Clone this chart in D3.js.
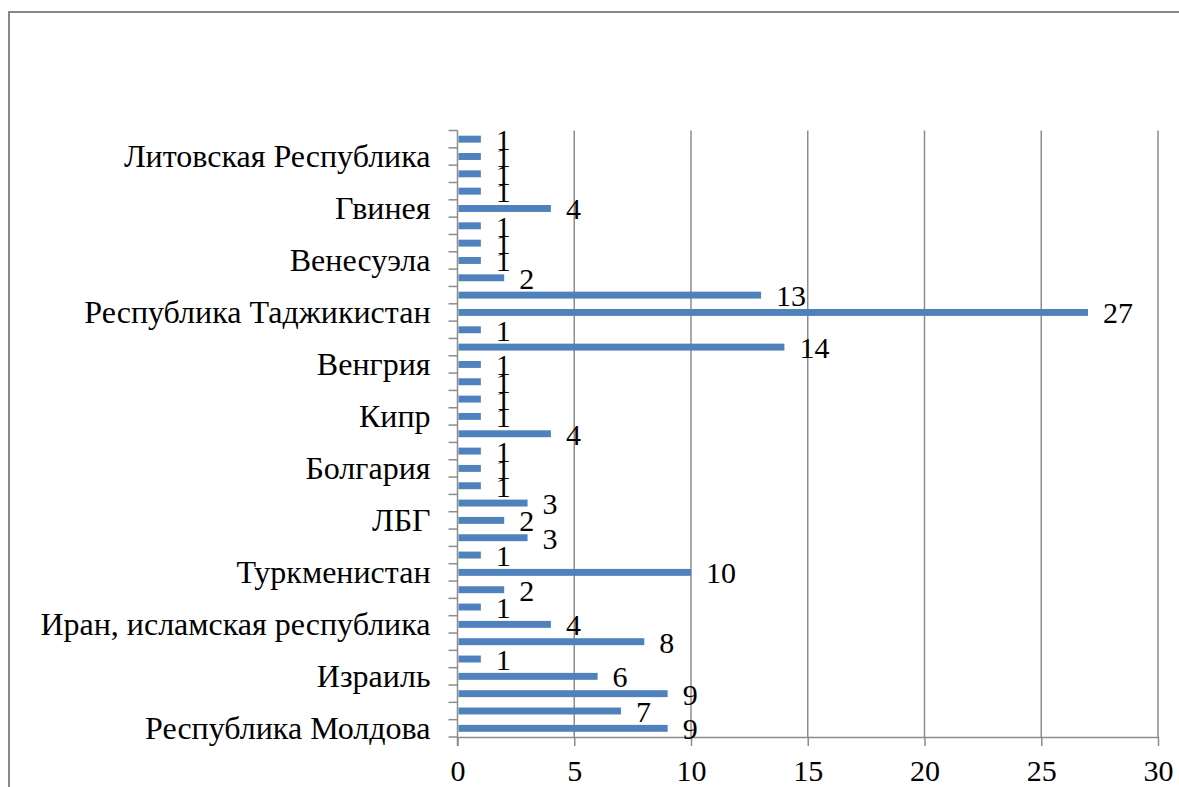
<!DOCTYPE html>
<html>
<head>
<meta charset="utf-8">
<script src="https://cdn.jsdelivr.net/npm/d3@7"></script>
<style>
  body { margin: 0; background: #fff; }
</style>
</head>
<body>
<div id="chart"></div>
<script>
// categories from the bottom of the axis upwards; only every third one is labelled in the picture
var countries = [
  "Республика Молдова", "", "", "Израиль", "", "",
  "Иран, исламская республика", "", "", "Туркменистан", "", "",
  "ЛБГ", "", "", "Болгария", "", "",
  "Кипр", "", "", "Венгрия", "", "",
  "Республика Таджикистан", "", "", "Венесуэла", "", "",
  "Гвинея", "", "", "Литовская Республика", ""
];
var counts = [9, 7, 9, 6, 1, 8, 4, 1, 2, 10, 1, 3, 2, 3, 1, 1, 1, 4, 1, 1, 1, 1, 14, 1, 27, 13, 2, 1, 1, 1, 4, 1, 1, 1, 1];
var xTicks = [0, 5, 10, 15, 20, 25, 30];

var W = 1179, H = 787;
var plot = { left: 457.5, right: 1158, top: 130.5, bottom: 737 };
var gray = "#8c8c8c";
var serif = "'Liberation Serif', Tinos, 'Times New Roman', serif";

var svg = d3.select("#chart")
  .append("svg")
  .attr("width", W)
  .attr("height", H)
  .attr("font-family", serif);

// outer chart frame (runs off the right and bottom edge)
svg.append("rect")
  .attr("x", 9).attr("y", 12)
  .attr("width", W + 20).attr("height", H + 20)
  .attr("fill", "none")
  .attr("stroke", "#888")
  .attr("stroke-width", 2);

var x = d3.scaleLinear()
  .domain([0, 30])
  .range([plot.left, plot.right]);

var idx = d3.range(counts.length);
var y = d3.scaleBand()
  .domain(idx)
  .range([plot.bottom, plot.top])
  .paddingInner(0.6)
  .paddingOuter(0.3);
var step = y.step();

// vertical gridlines
svg.append("g")
  .selectAll("line")
  .data(xTicks.slice(1))
  .enter()
  .append("line")
  .attr("x1", function (d) { return x(d) })
  .attr("x2", function (d) { return x(d) })
  .attr("y1", plot.top)
  .attr("y2", plot.bottom)
  .attr("stroke", gray)
  .attr("stroke-width", 1.5);

// x axis
var xAxis = svg.append("g")
  .attr("transform", "translate(0," + plot.bottom + ")")
  .call(d3.axisBottom(x).tickValues(xTicks).tickSize(9).tickSizeOuter(0).tickPadding(14));
xAxis.attr("font-family", serif).attr("font-size", 30);
xAxis.select(".domain").attr("stroke", gray).attr("stroke-width", 1.5);
xAxis.selectAll(".tick line").attr("stroke", gray).attr("stroke-width", 1.5);
xAxis.selectAll(".tick text").attr("fill", "#000");

// category axis: ticks sit between categories
var yAxis = svg.append("g").attr("transform", "translate(" + plot.left + ",0)");
yAxis.append("line")
  .attr("x1", 0).attr("x2", 0)
  .attr("y1", plot.top).attr("y2", plot.bottom + 9)
  .attr("stroke", gray).attr("stroke-width", 1.5);
yAxis.selectAll(".sep")
  .data(d3.range(counts.length + 1))
  .enter()
  .append("line")
  .attr("class", "sep")
  .attr("x1", -9).attr("x2", 0)
  .attr("y1", function (i) { return plot.bottom - i * step })
  .attr("y2", function (i) { return plot.bottom - i * step })
  .attr("stroke", gray).attr("stroke-width", 1.5);
yAxis.selectAll(".lab")
  .data(idx.filter(function (i) { return countries[i] !== "" }))
  .enter()
  .append("text")
  .attr("class", "lab")
  .attr("x", -27)
  .attr("y", function (i) { return y(i) + y.bandwidth() / 2 + 11 })
  .attr("text-anchor", "end")
  .attr("font-size", 32)
  .text(function (i) { return countries[i] });

// bars
svg.append("g")
  .selectAll("rect")
  .data(idx)
  .enter()
  .append("rect")
  .attr("x", x(0) + 1)
  .attr("y", function (i) { return y(i) })
  .attr("width", function (i) { return x(counts[i]) - x(0) - 1 })
  .attr("height", y.bandwidth())
  .attr("fill", "#4f81bd");

// data labels
svg.append("g")
  .selectAll("text")
  .data(idx)
  .enter()
  .append("text")
  .attr("x", function (i) { return x(counts[i]) + 15 })
  .attr("y", function (i) { return y(i) + y.bandwidth() / 2 + 11 })
  .attr("font-size", 30)
  .text(function (i) { return counts[i] });
</script>
</body>
</html>
